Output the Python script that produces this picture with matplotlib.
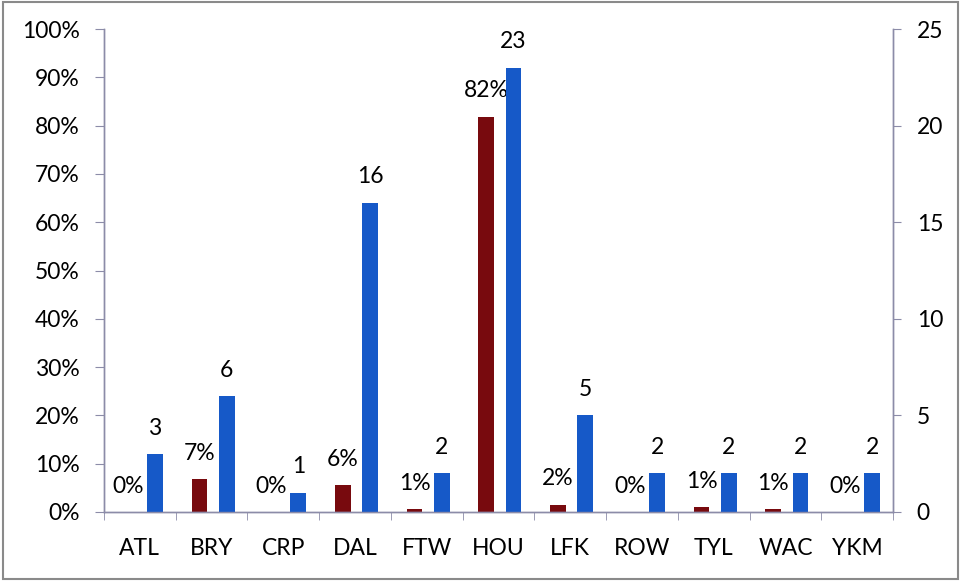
import matplotlib
matplotlib.use("Agg")
import matplotlib.pyplot as plt
import numpy as np
from matplotlib.patches import Rectangle
from matplotlib.ticker import FixedLocator, NullFormatter, FuncFormatter

categories = ['ATL', 'BRY', 'CRP', 'DAL', 'FTW', 'HOU', 'LFK', 'ROW', 'TYL', 'WAC', 'YKM']
pct_values = [0.0, 0.068, 0.0, 0.055, 0.0055, 0.818, 0.015, 0.0, 0.0095, 0.0055, 0.0]
counts = [3, 6, 1, 16, 2, 23, 5, 2, 2, 2, 2]

RED = '#780a0e'
BLUE = '#1659c8'
SPINE = '#8c8ca8'
FONT = 'Lato'
FS = 16.5

plt.rcParams['font.family'] = [FONT, 'DejaVu Sans']

fig = plt.figure(figsize=(9.62, 5.81), dpi=100)
fig.patches.append(Rectangle((0.003, 0.004), 0.993, 0.993, transform=fig.transFigure,
                             fill=False, edgecolor='#8a8a8a', linewidth=1.5))
ax = fig.add_axes([104/962, 1-512/581, (893-104)/962, (512-29)/581])
ax2 = ax.twinx()

x = np.arange(len(categories))
w = 0.22
off_r, off_b = -0.17, 0.21

ax.bar(x + off_r, pct_values, width=w, color=RED, zorder=2)
ax2.bar(x + off_b, counts, width=w, color=BLUE, zorder=2)

for xi, v in zip(x, pct_values):
    ax.annotate(f"{int(v*100 + 0.5)}%", xy=(xi + off_r, v), xytext=(0, 14),
                textcoords='offset points', ha='center', va='baseline', fontsize=FS)
for xi, c in zip(x, counts):
    ax2.annotate(f"{c}", xy=(xi + off_b, c), xytext=(0, 14),
                 textcoords='offset points', ha='center', va='baseline', fontsize=FS)

ax.set_xlim(-0.5, len(categories) - 0.5)
ax.set_ylim(0, 1.0)
ax2.set_ylim(0, 25)

ax.set_yticks(np.arange(0, 1.01, 0.1))
ax.yaxis.set_major_formatter(FuncFormatter(lambda v, p: f"{int(round(v*100))}%"))
ax2.set_yticks(np.arange(0, 26, 5))

ax.set_xticks(x)
ax.set_xticklabels(categories)
ax.xaxis.set_minor_locator(FixedLocator(np.arange(-0.5, len(categories), 1.0)))
ax.xaxis.set_minor_formatter(NullFormatter())
ax.tick_params(axis='x', which='major', length=0, pad=19, labelsize=FS)
ax.tick_params(axis='x', which='minor', length=6, color=SPINE, direction='out')
ax.tick_params(axis='y', length=6.5, pad=11, labelsize=FS, color=SPINE, direction='out')
ax2.tick_params(axis='y', length=6, pad=11, labelsize=FS, color=SPINE, direction='out')

for a in (ax, ax2):
    a.spines['top'].set_visible(False)
    for s in ('left', 'right', 'bottom'):
        a.spines[s].set_color(SPINE)
        a.spines[s].set_linewidth(1.0)

fig.savefig('out.png', dpi=100)
